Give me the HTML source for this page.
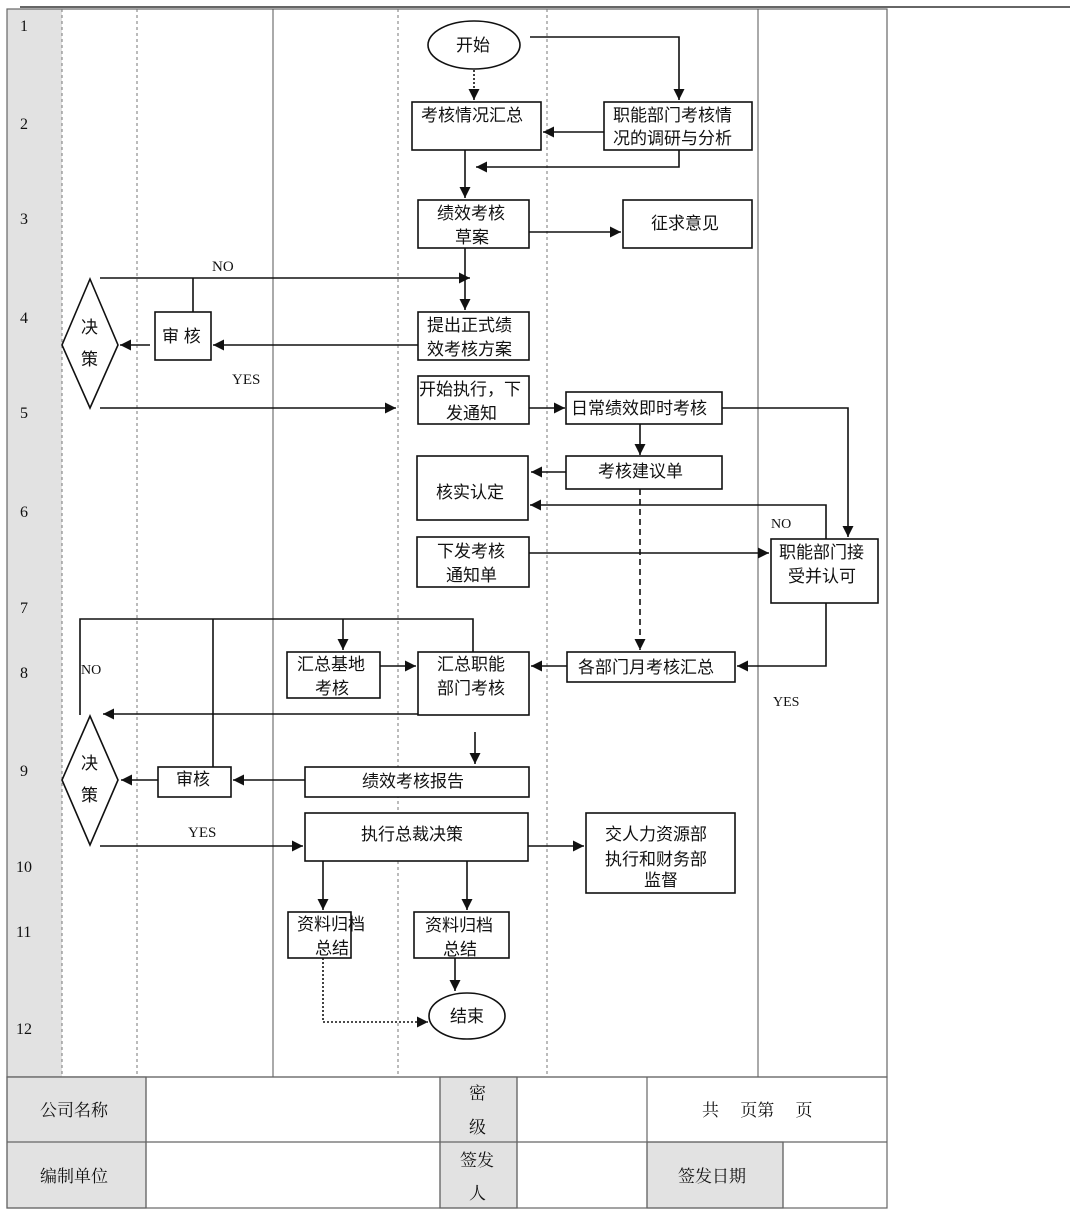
<!DOCTYPE html>
<html><head><meta charset="utf-8"><style>
html,body{margin:0;padding:0;background:#fff;}
svg{display:block;}
text{font-family:"Liberation Serif","Noto Serif CJK SC","Noto Sans CJK SC",serif;fill:#111;}
.c{font-family:"Liberation Sans","Noto Sans CJK SC",sans-serif;font-size:17px;}
.s{font-size:16px;}
.b{fill:#fff;stroke:#111;stroke-width:1.6;}
.l{stroke:#111;stroke-width:1.6;fill:none;}
</style></head><body>
<svg width="1080" height="1216" viewBox="0 0 1080 1216" xmlns="http://www.w3.org/2000/svg">
<defs>
<marker id="a" viewBox="0 0 10 10" refX="10" refY="5" markerWidth="7" markerHeight="7" markerUnits="strokeWidth" orient="auto"><path d="M0,0 L10,5 L0,10 z" fill="#111"/></marker>
</defs>
<line x1="20" y1="7" x2="1070" y2="7" stroke="#333" stroke-width="1.5"/>
<rect x="7" y="9" width="55" height="1068" fill="#e2e2e2"/>
<rect x="7" y="9" width="880" height="1068" fill="none" stroke="#666" stroke-width="1.2"/>
<g stroke="#777" stroke-width="1" stroke-dasharray="3,3">
<line x1="62" y1="9" x2="62" y2="1077"/><line x1="137" y1="9" x2="137" y2="1077"/>
<line x1="398" y1="9" x2="398" y2="1077"/><line x1="547" y1="9" x2="547" y2="1077"/>
</g>
<g stroke="#555" stroke-width="1"><line x1="273" y1="9" x2="273" y2="1077"/><line x1="758" y1="9" x2="758" y2="1077"/></g>
<g class="s" font-size="16">
<text x="20" y="31">1</text><text x="20" y="129">2</text><text x="20" y="224">3</text><text x="20" y="323">4</text><text x="20" y="418">5</text><text x="20" y="517">6</text><text x="20" y="613">7</text><text x="20" y="678">8</text><text x="20" y="776">9</text><text x="16" y="872">10</text><text x="16" y="937">11</text><text x="16" y="1034">12</text>
</g>
<!-- footer table -->
<g stroke="#666" stroke-width="1.2">
<rect x="7" y="1077" width="139" height="131" fill="#e2e2e2"/>
<rect x="440" y="1077" width="77" height="131" fill="#e2e2e2"/>
<rect x="647" y="1142" width="136" height="66" fill="#e2e2e2"/>
<rect x="7" y="1077" width="880" height="131" fill="none"/>
<line x1="7" y1="1142" x2="887" y2="1142"/>
<line x1="146" y1="1077" x2="146" y2="1208"/><line x1="440" y1="1077" x2="440" y2="1208"/>
<line x1="517" y1="1077" x2="517" y2="1208"/><line x1="647" y1="1077" x2="647" y2="1208"/>
<line x1="783" y1="1142" x2="783" y2="1208"/>
</g>
<g class="c">
<text x="40" y="1116">公司名称</text><text x="40" y="1182">编制单位</text>
<text x="469" y="1099">密</text><text x="469" y="1133">级</text>
<text x="460" y="1166">签发</text><text x="469" y="1199">人</text>
<text x="702" y="1116">共　 页第　 页</text><text x="678" y="1182">签发日期</text>
</g>
<!-- shapes -->
<ellipse cx="474" cy="45" rx="46" ry="24" class="b"/><text class="c" x="456" y="51">开始</text>
<line x1="474" y1="70" x2="474" y2="100" class="l" stroke-dasharray="2,2" marker-end="url(#a)"/>
<rect x="412" y="102" width="129" height="48" class="b"/><text class="c" x="421" y="121">考核情况汇总</text>
<rect x="604" y="102" width="148" height="48" class="b"/><text class="c" x="613" y="121">职能部门考核情</text><text class="c" x="613" y="144">况的调研与分析</text>
<polyline points="530,37 679,37 679,100" class="l" marker-end="url(#a)"/>
<line x1="604" y1="132" x2="543" y2="132" class="l" marker-end="url(#a)"/>
<polyline points="679,150 679,167 476,167" class="l" marker-end="url(#a)"/>
<line x1="465" y1="150" x2="465" y2="198" class="l" marker-end="url(#a)"/>
<rect x="418" y="200" width="111" height="48" class="b"/><text class="c" x="437" y="219">绩效考核</text><text class="c" x="455" y="243">草案</text>
<line x1="529" y1="232" x2="621" y2="232" class="l" marker-end="url(#a)"/>
<rect x="623" y="200" width="129" height="48" class="b"/><text class="c" x="651" y="229">征求意见</text>
<line x1="465" y1="248" x2="465" y2="310" class="l" marker-end="url(#a)"/>
<rect x="418" y="312" width="111" height="48" class="b"/><text class="c" x="427" y="331">提出正式绩</text><text class="c" x="427" y="355">效考核方案</text>
<polyline points="100,278 470,278" class="l" marker-end="url(#a)"/>
<line x1="193" y1="278" x2="193" y2="312" class="l"/>
<text x="212" y="271" font-size="15">NO</text>
<rect x="155" y="312" width="56" height="48" class="b"/><text class="c" x="162" y="342">审 核</text>
<line x1="418" y1="345" x2="213" y2="345" class="l" marker-end="url(#a)"/>
<line x1="150" y1="345" x2="120" y2="345" class="l" marker-end="url(#a)"/>
<polygon points="90,279 118,345 90,408 62,345" class="b"/><text class="c" x="81" y="333">决</text><text class="c" x="81" y="365">策</text>
<text x="232" y="384" font-size="15">YES</text>
<line x1="100" y1="408" x2="396" y2="408" class="l" marker-end="url(#a)"/>
<rect x="418" y="376" width="111" height="48" class="b"/><text class="c" x="419" y="395">开始执行，下</text><text class="c" x="446" y="419">发通知</text>
<line x1="529" y1="408" x2="565" y2="408" class="l" marker-end="url(#a)"/>
<rect x="566" y="392" width="156" height="32" class="b"/><text class="c" x="571" y="414">日常绩效即时考核</text>
<polyline points="722,408 848,408 848,537" class="l" marker-end="url(#a)"/>
<line x1="640" y1="424" x2="640" y2="455" class="l" marker-end="url(#a)"/>
<rect x="566" y="456" width="156" height="33" class="b"/><text class="c" x="598" y="477">考核建议单</text>
<line x1="566" y1="472" x2="531" y2="472" class="l" marker-end="url(#a)"/>
<rect x="417" y="456" width="111" height="64" class="b"/><text class="c" x="436" y="498">核实认定</text>
<line x1="640" y1="489" x2="640" y2="650" class="l" stroke-dasharray="6,4" marker-end="url(#a)"/>
<polyline points="826,539 826,505 530,505" class="l" marker-end="url(#a)"/>
<text x="771" y="528" font-size="14">NO</text>
<rect x="417" y="537" width="112" height="50" class="b"/><text class="c" x="437" y="557">下发考核</text><text class="c" x="446" y="581">通知单</text>
<line x1="529" y1="553" x2="769" y2="553" class="l" marker-end="url(#a)"/>
<rect x="771" y="539" width="107" height="64" class="b"/><text class="c" x="779" y="558">职能部门接</text><text class="c" x="788" y="582">受并认可</text>
<polyline points="826,603 826,666 737,666" class="l" marker-end="url(#a)"/>
<text x="773" y="706" font-size="14">YES</text>
<rect x="567" y="652" width="168" height="30" class="b"/><text class="c" x="578" y="673">各部门月考核汇总</text>
<line x1="567" y1="666" x2="531" y2="666" class="l" marker-end="url(#a)"/>
<rect x="418" y="652" width="111" height="63" class="b"/><text class="c" x="437" y="670">汇总职能</text><text class="c" x="437" y="694">部门考核</text>
<rect x="287" y="652" width="93" height="46" class="b"/><text class="c" x="297" y="670">汇总基地</text><text class="c" x="315" y="694">考核</text>
<line x1="380" y1="666" x2="416" y2="666" class="l" marker-end="url(#a)"/>
<polyline points="80,715 80,619 473,619 473,652" class="l"/>
<line x1="343" y1="619" x2="343" y2="650" class="l" marker-end="url(#a)"/>
<line x1="213" y1="619" x2="213" y2="767" class="l"/>
<text x="81" y="674" font-size="14">NO</text>
<line x1="418" y1="714" x2="103" y2="714" class="l" marker-end="url(#a)"/>
<polygon points="90,716 118,780 90,845 62,780" class="b"/><text class="c" x="81" y="769">决</text><text class="c" x="81" y="801">策</text>
<line x1="475" y1="732" x2="475" y2="764" class="l" marker-end="url(#a)"/>
<rect x="305" y="767" width="224" height="30" class="b"/><text class="c" x="362" y="787">绩效考核报告</text>
<line x1="305" y1="780" x2="233" y2="780" class="l" marker-end="url(#a)"/>
<rect x="158" y="767" width="73" height="30" class="b"/><text class="c" x="176" y="785">审核</text>
<line x1="158" y1="780" x2="121" y2="780" class="l" marker-end="url(#a)"/>
<text x="188" y="837" font-size="15">YES</text>
<line x1="100" y1="846" x2="303" y2="846" class="l" marker-end="url(#a)"/>
<rect x="305" y="813" width="223" height="48" class="b"/><text class="c" x="361" y="840">执行总裁决策</text>
<line x1="528" y1="846" x2="584" y2="846" class="l" marker-end="url(#a)"/>
<rect x="586" y="813" width="149" height="80" class="b"/><text class="c" x="605" y="840">交人力资源部</text><text class="c" x="605" y="865">执行和财务部</text><text class="c" x="644" y="886" font-size="14">监督</text>
<line x1="323" y1="861" x2="323" y2="910" class="l" marker-end="url(#a)"/>
<line x1="467" y1="861" x2="467" y2="910" class="l" marker-end="url(#a)"/>
<rect x="288" y="912" width="63" height="46" class="b"/><text class="c" x="297" y="930">资料归档</text><text class="c" x="315" y="954">总结</text>
<rect x="414" y="912" width="95" height="46" class="b"/><text class="c" x="425" y="931">资料归档</text><text class="c" x="443" y="955">总结</text>
<line x1="455" y1="958" x2="455" y2="991" class="l" marker-end="url(#a)"/>
<ellipse cx="467" cy="1016" rx="38" ry="23" class="b"/><text class="c" x="450" y="1022">结束</text>
<polyline points="323,958 323,1022 428,1022" class="l" stroke-dasharray="2,2" marker-end="url(#a)"/>
</svg>
</body></html>
